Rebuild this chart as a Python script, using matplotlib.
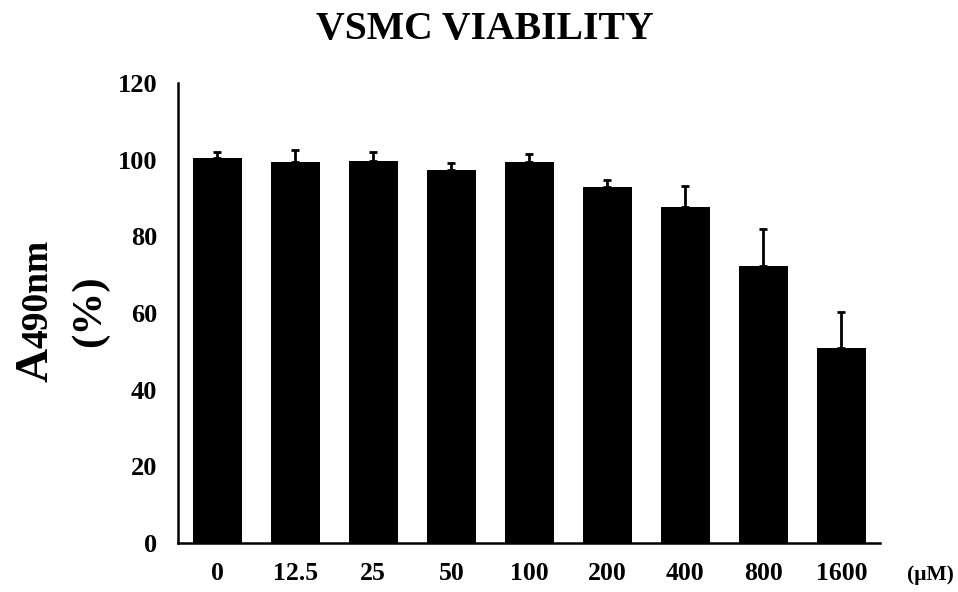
import matplotlib
matplotlib.use('Agg')
import matplotlib.pyplot as plt

plt.rcParams['font.family'] = ['Liberation Serif', 'DejaVu Serif']
plt.rcParams['font.weight'] = 'bold'

doses = ['0', '12.5', '25', '50', '100', '200', '400', '800', '1600']
viability = [100.3, 99.3, 99.7, 97.2, 99.3, 92.8, 87.6, 72.1, 50.9]
sd = [1.7, 3.2, 2.3, 1.9, 2.2, 1.9, 5.5, 9.8, 9.4]
yticks = [0, 20, 40, 60, 80, 100, 120]

fig = plt.figure(figsize=(9.58, 5.92), dpi=100)
ax = fig.add_axes([0.186, 0.083, 0.733, 0.777])

x = range(len(doses))
ax.bar(x, viability, width=0.63, color='black',
       yerr=[[0] * len(sd), sd], capsize=3,
       error_kw=dict(ecolor='black', elinewidth=2, capthick=2))

ax.set_xlim(-0.5, 8.5)
ax.set_ylim(0, 120)
ax.set_yticks(yticks)
ax.set_xticks(list(x))
ax.set_xticklabels(doses)
ax.tick_params(axis='y', length=0, labelsize=19, pad=15)
ax.tick_params(axis='x', length=0, labelsize=18.5, pad=14)
for lab in ax.get_xticklabels() + ax.get_yticklabels():
    lab.set_fontweight('bold')

for s in ['top', 'right']:
    ax.spines[s].set_visible(False)
for s in ['left', 'bottom']:
    ax.spines[s].set_linewidth(1.8)

fig.text(0.506, 0.95, 'VSMC VIABILITY', ha='center', va='center',
         fontsize=28.5, fontweight='bold')

# y label: big "A" then smaller "490nm" on the same baseline
x0, y0 = 0.05, 1 - 382 / 592
a_txt = fig.text(x0, y0, 'A', rotation=90, rotation_mode='anchor',
                 ha='left', va='baseline', fontsize=34, fontweight='bold')
fig.canvas.draw()
a_len = a_txt.get_window_extent().height / fig.bbox.height
fig.text(x0, y0 + a_len, '490nm', rotation=90, rotation_mode='anchor',
         ha='left', va='baseline', fontsize=27, fontweight='bold')
fig.text(0.094, 0.475, '(%)', rotation=90, ha='center', va='center',
         fontsize=31, fontweight='bold')

fig.text(0.971, 0.029, '(μM)', ha='center', va='center',
         fontsize=15.5, fontweight='bold')

fig.savefig('out.png', dpi=100)
